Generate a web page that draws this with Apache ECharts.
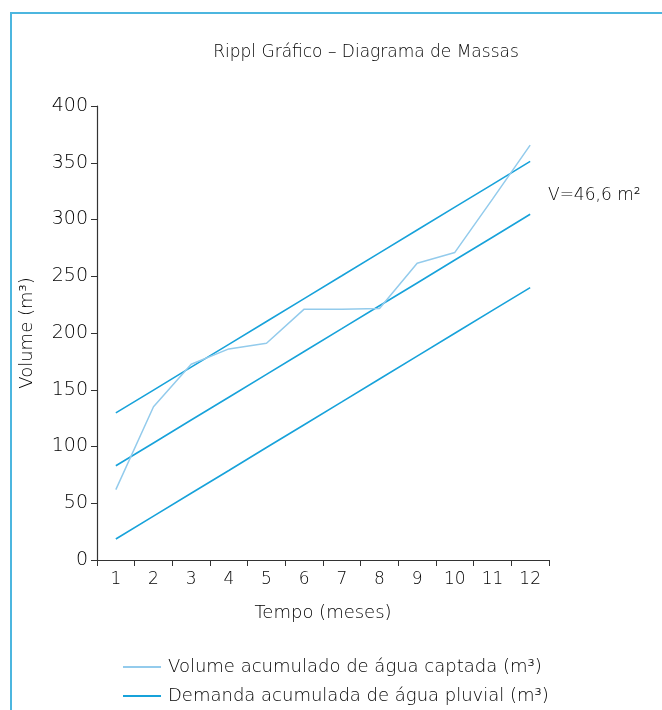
<!DOCTYPE html>
<html><head><meta charset="utf-8">
<script src="https://cdn.jsdelivr.net/npm/echarts@6/dist/echarts.min.js"></script>
<style>html,body{margin:0;padding:0;background:#fff}#c{width:662px;height:710px}</style>
</head><body><div id="c"></div>
<script>
const months = ['1','2','3','4','5','6','7','8','9','10','11','12'];
const yTicks = [0,50,100,150,200,250,300,350,400];
const captada = [62, 135, 172.5, 186, 191, 221, 221, 221.5, 261.5, 271, 318, 365.5];
const demandaSup = [129.6, 149.7, 169.9, 190, 210.1, 230.3, 250.4, 270.6, 290.7, 310.9, 331, 351.2];
const demandaMed = [83, 103.1, 123.3, 143.4, 163.5, 183.7, 203.8, 224, 244.1, 264.3, 284.4, 304.6];
const demandaInf = [18.5, 38.6, 58.8, 78.9, 99.1, 119.2, 139.3, 159.5, 179.6, 199.8, 219.9, 240];
const nomeCaptada = 'Volume acumulado de água captada (m³)';
const nomeDemanda = 'Demanda acumulada de água pluvial (m³)';
const anotacao = 'V=46,6 m²';

const FONT = '"DejaVu Sans", sans-serif';
const W = 200;
const TXT = '#000';
const cDem = '#17a2da';
const cCap = '#93cbec';

const chart = echarts.init(document.getElementById('c'));
const demLine = (data) => ({
  name: nomeDemanda, type: 'line', data: data, symbol: 'none',
  lineStyle: {color: cDem, width: 1.6}, itemStyle: {color: cDem}, silent: true, z: 2
});
const legendBase = (top, name) => ({
  orient: 'horizontal', left: 118, top: top, itemWidth: 38, itemHeight: 2, icon: 'rect',
  data: [name],
  textStyle: {fontFamily: FONT, fontSize: 18, fontWeight: W, color: TXT, padding: [0,0,0,2]}
});
chart.setOption({
  animation: false,
  title: {
    text: 'Rippl Gráfico – Diagrama de Massas', left: 361, top: 39, textAlign: 'center',
    textStyle: {fontFamily: FONT, fontSize: 17, fontWeight: W, color: TXT}
  },
  grid: {left: 97, right: 113, top: 106, bottom: 150},
  legend: [legendBase(653, nomeCaptada), legendBase(682, nomeDemanda)],
  xAxis: {
    type: 'category', data: months, boundaryGap: true,
    name: 'Tempo (meses)', nameLocation: 'middle', nameGap: 44,
    nameTextStyle: {fontFamily: FONT, fontSize: 18, fontWeight: W, color: TXT},
    axisLine: {lineStyle: {color: '#333', width: 1.2}},
    axisTick: {show: true, alignWithLabel: false, length: 6, lineStyle: {color: '#333'}},
    axisLabel: {fontFamily: FONT, fontSize: 17, fontWeight: W, color: TXT, margin: 11}
  },
  yAxis: {
    type: 'value', min: yTicks[0], max: yTicks[yTicks.length-1], interval: 50,
    name: 'Volume (m³)', nameLocation: 'middle', nameGap: 61, nameRotate: 90,
    nameTextStyle: {fontFamily: FONT, fontSize: 18, fontWeight: W, color: TXT},
    axisLine: {show: true, lineStyle: {color: '#333', width: 1.2}},
    axisTick: {show: true, length: 6, lineStyle: {color: '#333'}},
    splitLine: {show: false},
    axisLabel: {fontFamily: FONT, fontSize: 19, fontWeight: W, color: TXT, margin: 9}
  },
  graphic: [
    {type: 'line', shape: {x1: 11, y1: 13, x2: 11, y2: 710}, style: {stroke: '#4cb6df', lineWidth: 2}},
    {type: 'line', shape: {x1: 10, y1: 13, x2: 662, y2: 13}, style: {stroke: '#4cb6df', lineWidth: 2}},
    {type: 'text', left: 548, top: 187, style: {text: anotacao, font: W + ' 17px ' + FONT, fill: TXT}}
  ],
  series: [
    {name: nomeCaptada, type: 'line', data: captada, symbol: 'none',
     lineStyle: {color: cCap, width: 1.5}, itemStyle: {color: cCap}, z: 3},
    demLine(demandaSup), demLine(demandaMed), demLine(demandaInf)
  ]
});
</script></body></html>
